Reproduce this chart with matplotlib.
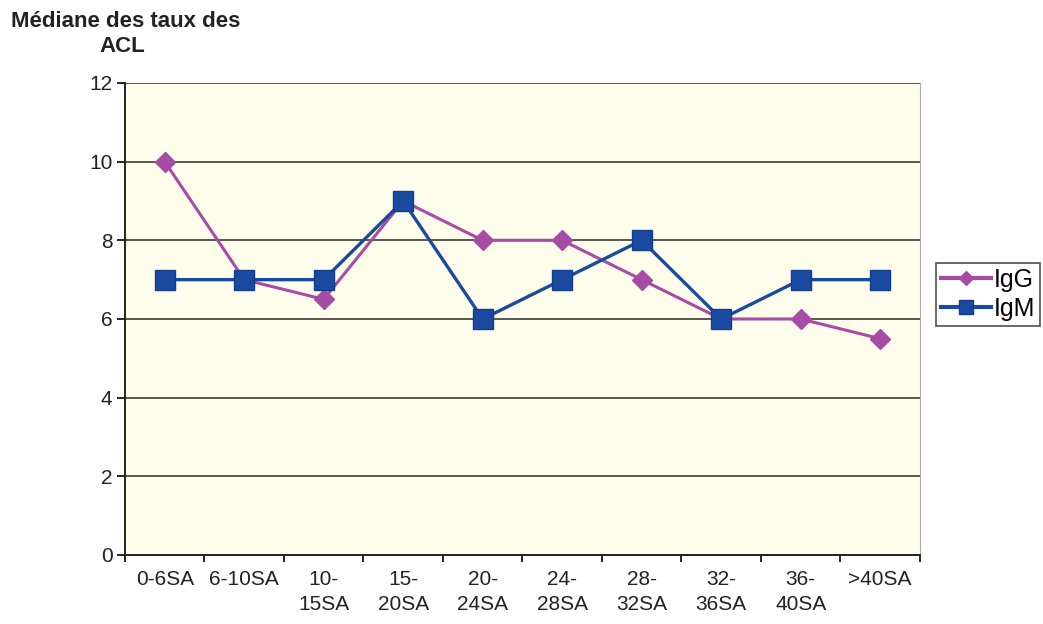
import matplotlib.pyplot as plt
import numpy as np

plt.rcParams['font.family'] = ['Liberation Sans', 'DejaVu Sans']

categories = ["0-6SA", "6-10SA", "10-\n15SA", "15-\n20SA", "20-\n24SA",
              "24-\n28SA", "28-\n32SA", "32-\n36SA", "36-\n40SA", ">40SA"]
igg = [10, 7, 6.5, 9, 8, 8, 7, 6, 6, 5.5]
igm = [7, 7, 7, 9, 6, 7, 8, 6, 7, 7]

fig = plt.figure(figsize=(10.43, 6.24), dpi=100)
ax = fig.add_axes([0.1198, 0.1106, 0.7622, 0.7564])
ax.set_facecolor("#fefdeb")

x = np.arange(len(categories))
ax.plot(x, igg, color="#a64ca4", marker="D", markersize=10, lw=2.2,
        markeredgecolor="#a64ca4", label="IgG", zorder=3)
ax.plot(x, igm, color="#1a4aa0", marker="s", markersize=14, lw=2.4,
        markeredgecolor="#143c8c", label="IgM", zorder=3)

ax.set_xlim(-0.5, len(categories) - 0.5)
ax.set_ylim(0, 12)
ax.set_yticks(range(0, 13, 2))
ax.set_xticks(np.arange(len(categories) + 1) - 0.5, minor=False)
ax.set_xticklabels([])
ax.set_xticks(x, minor=True)
ax.set_xticklabels(categories, minor=True, fontsize=15, linespacing=1.4,
                   color="#222222")
ax.tick_params(axis="x", which="minor", length=0, pad=11)
ax.tick_params(axis="x", which="major", length=5, width=1.2, direction="out")
ax.tick_params(axis="y", length=6, width=1.2, labelsize=15, pad=3,
               labelcolor="#222222")

ax.grid(axis="y", color="#4a4a42", lw=1.3)
ax.set_axisbelow(True)
for side in ["left", "bottom"]:
    ax.spines[side].set_color("#222222")
    ax.spines[side].set_linewidth(1.4)
ax.spines["top"].set_visible(False)
ax.spines["right"].set_color("#aaaaaa")

fig.text(0.011, 0.965, "Médiane des taux des", fontsize=16, fontweight="bold",
         ha="left", va="center", color="#222222")
fig.text(0.117, 0.925, "ACL", fontsize=16, fontweight="bold",
         ha="center", va="center", color="#222222")

leg = ax.legend(loc="center left", bbox_to_anchor=(1.02, 0.552), fontsize=18,
                frameon=True, fancybox=False, edgecolor="#222222",
                handlelength=2.0, handletextpad=0.1, borderpad=0.2,
                borderaxespad=0, labelspacing=0.2, markerscale=0.75)
leg.get_frame().set_linewidth(1.2)
for line in leg.get_lines():
    line.set_linewidth(3)

fig.savefig("out.png", dpi=100, facecolor="white")
